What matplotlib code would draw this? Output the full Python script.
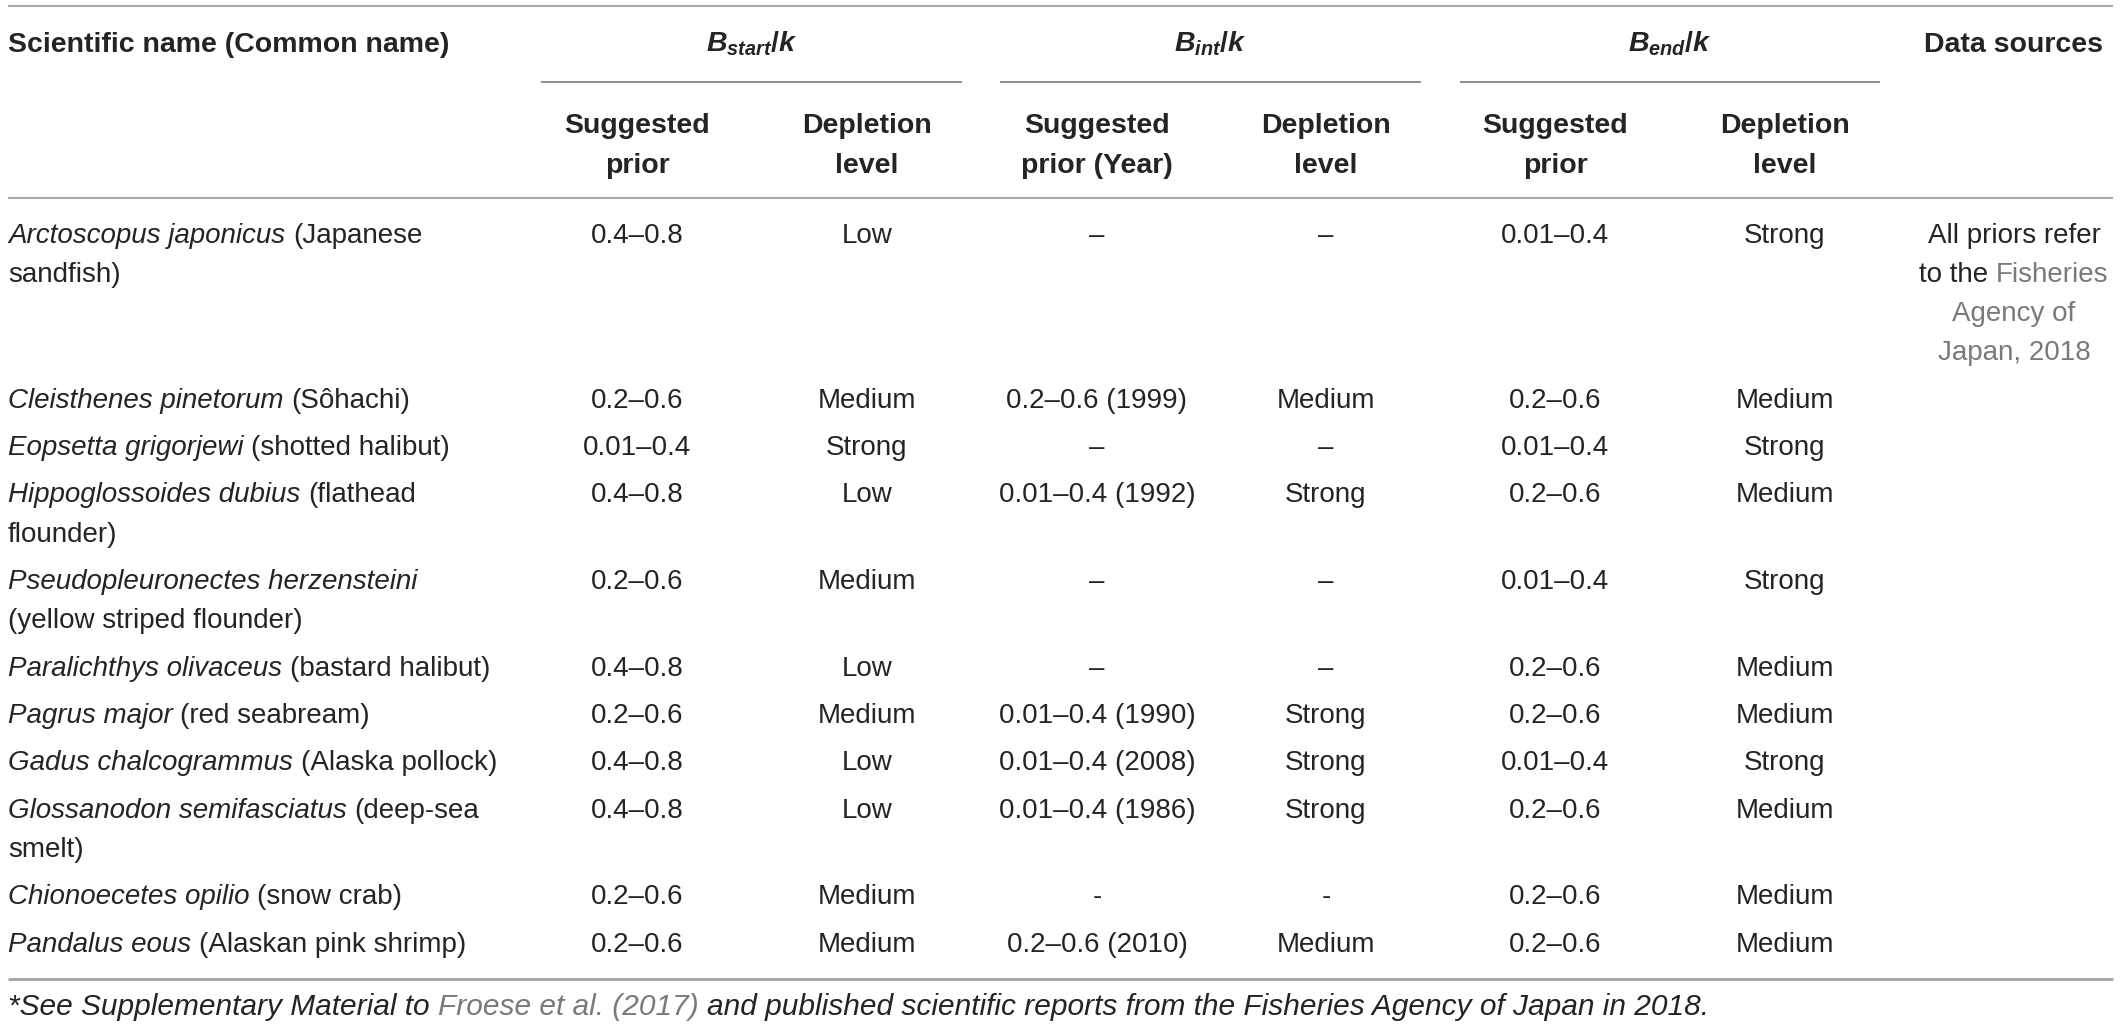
import matplotlib
matplotlib.use("Agg")
import matplotlib.pyplot as plt

plt.rcParams['font.family'] = ['Liberation Sans', 'DejaVu Sans']
plt.rcParams['mathtext.fontset'] = 'custom'
plt.rcParams['mathtext.it'] = 'Liberation Sans:bold:italic'
plt.rcParams['mathtext.rm'] = 'Liberation Sans:bold'
plt.rcParams['mathtext.bf'] = 'Liberation Sans:bold'

# ---------------- table content ----------------
sci_names = ["Arctoscopus japonicus", "Cleisthenes pinetorum", "Eopsetta grigorjewi",
             "Hippoglossoides dubius", "Pseudopleuronectes herzensteini",
             "Paralichthys olivaceus", "Pagrus major", "Gadus chalcogrammus",
             "Glossanodon semifasciatus", "Chionoecetes opilio", "Pandalus eous"]
# "\n" marks where the common name wraps in the original table
common_names = ["(Japanese\nsandfish)", "(Sôhachi)", "(shotted halibut)",
                "(flathead\nflounder)", "\n(yellow striped flounder)",
                "(bastard halibut)", "(red seabream)", "(Alaska pollock)",
                "(deep-sea\nsmelt)", "(snow crab)", "(Alaskan pink shrimp)"]

bstart_prior = ["0.4–0.8", "0.2–0.6", "0.01–0.4", "0.4–0.8", "0.2–0.6", "0.4–0.8",
                "0.2–0.6", "0.4–0.8", "0.4–0.8", "0.2–0.6", "0.2–0.6"]
bstart_level = ["Low", "Medium", "Strong", "Low", "Medium", "Low",
                "Medium", "Low", "Low", "Medium", "Medium"]
bint_prior = ["–", "0.2–0.6 (1999)", "–", "0.01–0.4 (1992)", "–", "–",
              "0.01–0.4 (1990)", "0.01–0.4 (2008)", "0.01–0.4 (1986)", "-", "0.2–0.6 (2010)"]
bint_level = ["–", "Medium", "–", "Strong", "–", "–",
              "Strong", "Strong", "Strong", "-", "Medium"]
bend_prior = ["0.01–0.4", "0.2–0.6", "0.01–0.4", "0.2–0.6", "0.01–0.4", "0.2–0.6",
              "0.2–0.6", "0.01–0.4", "0.2–0.6", "0.2–0.6", "0.2–0.6"]
bend_level = ["Strong", "Medium", "Strong", "Medium", "Strong", "Medium",
              "Medium", "Strong", "Medium", "Medium", "Medium"]

group_titles = [r"$B_{start}/k$", r"$B_{int}/k$", r"$B_{end}/k$"]
sub_headers = [("Suggested", "prior"), ("Depletion", "level"),
               ("Suggested", "prior (Year)"), ("Depletion", "level"),
               ("Suggested", "prior"), ("Depletion", "level")]

# ---------------- layout / style ----------------
DARK = "#262324"
LINK = "#7a7a7a"
RULE = "#a9a9a9"
FS = 20
FS_H = 20.5
FS_NOTE = 21.5

fig = plt.figure(figsize=(21.2, 10.27), dpi=100)
ax = fig.add_axes([0, 0, 1, 1])
ax.set_xlim(0, 2120)
ax.set_ylim(1027, 0)
ax.axis("off")
renderer = fig.canvas.get_renderer()

reg = dict(fontsize=FS, color=DARK)
ita = dict(fontsize=FS, color=DARK, style="italic")


def text_width(s, **kw):
    t = ax.text(0, 0, "|" + s + "|", **kw)
    w1 = t.get_window_extent(renderer).width
    t.set_text("||")
    w0 = t.get_window_extent(renderer).width
    t.remove()
    return w1 - w0


def draw_runs(x, y, runs, ha="left"):
    widths = [text_width(s, **kw) for s, kw in runs]
    if ha == "center":
        x -= sum(widths) / 2
    for (s, kw), w in zip(runs, widths):
        ax.text(x, y, s, va="baseline", ha="left", **kw)
        x += w


x_left, x_right = 8, 2113
col_x = [637, 867, 1097, 1326, 1555, 1785]
src_x = 2014
group_spans = [(541, 962), (1000, 1421), (1460, 1880)]

# rules
ax.plot([x_left, x_right], [6, 6], color=RULE, lw=1.5, solid_capstyle="butt")
ax.plot([x_left, x_right], [198, 198], color=RULE, lw=1.5, solid_capstyle="butt")
ax.plot([x_left, x_right], [979, 979], color=RULE, lw=2.2, solid_capstyle="butt")
for a, b in group_spans:
    ax.plot([a, b], [82, 82], color="#6e6e6e", lw=1.1, solid_capstyle="butt")

# header
ax.text(x_left, 52, "Scientific name (Common name)", fontsize=FS_H,
        fontweight="bold", color=DARK, va="baseline")
for (a, b), title in zip(group_spans, group_titles):
    ax.text((a + b) / 2, 52, title, fontsize=FS_H, color=DARK, ha="center", va="baseline")
ax.text(src_x, 52, "Data sources", fontsize=FS_H, fontweight="bold",
        color=DARK, ha="center", va="baseline")
for cx, (l1, l2) in zip(col_x, sub_headers):
    ax.text(cx, 133, l1, fontsize=FS_H, fontweight="bold", color=DARK, ha="center", va="baseline")
    ax.text(cx, 173, l2, fontsize=FS_H, fontweight="bold", color=DARK, ha="center", va="baseline")

# body
line_h = 39
row_gap = 8.5
y = 243
columns = [bstart_prior, bstart_level, bint_prior, bint_level, bend_prior, bend_level]
for i, (sci, com) in enumerate(zip(sci_names, common_names)):
    parts = com.split("\n")
    first = parts[0]
    if first:
        draw_runs(x_left, y, [(sci + " ", ita), (first, reg)])
    else:
        draw_runs(x_left, y, [(sci, ita)])
    for k, p in enumerate(parts[1:], start=1):
        ax.text(x_left, y + k * line_h, p, va="baseline", **reg)
    for cx, col in zip(col_x, columns):
        ax.text(cx, y, col[i], ha="center", va="baseline", **reg)
    n_lines = len(parts)
    if i == 0:
        # data source note spans four lines in the first row
        draw_runs(src_x, y, [("All priors refer", reg)], ha="center")
        draw_runs(src_x, y + line_h, [("to the ", reg), ("Fisheries", dict(reg, color=LINK))], ha="center")
        draw_runs(src_x, y + 2 * line_h, [("Agency of", dict(reg, color=LINK))], ha="center")
        draw_runs(src_x, y + 3 * line_h, [("Japan, 2018", dict(reg, color=LINK))], ha="center")
        n_lines = 4
    y += n_lines * line_h + row_gap

# footnote
note = dict(ita, fontsize=FS_NOTE)
draw_runs(x_left, 1015, [("*See Supplementary Material to ", note),
                         ("Froese et al. (2017) ", dict(note, color=LINK)),
                         ("and published scientific reports from the Fisheries Agency of Japan in 2018.", note)])

fig.savefig("out.png", dpi=100)
